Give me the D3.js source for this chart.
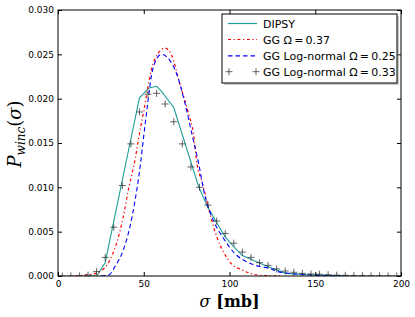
<!DOCTYPE html>
<html lang="en">
<head>
    <meta charset="UTF-8">
    <title>P winc sigma</title>
    <style>
        body {
            margin: 0;
            background-color: #ffffff;
        }
        svg text {
            font-family: 'DejaVu Sans', sans-serif;
        }
        .tick text {
            font-size: 9px;
            fill: #000;
        }
        .serif {
            font-family: 'DejaVu Serif', serif;
        }
    </style>
</head>
<body>
    <div id="chart"></div>

    <script src="https://d3js.org/d3.v7.min.js"></script>
    <script>
        // values: [sigma, P]
        const dipsy = [
            [17.5, 0], [22.5, 0], [27.5, 0.0015], [42, 0.0150], [47.5, 0.0201],
            [53, 0.0212], [57.5, 0.0214], [60, 0.0209], [67.5, 0.0190], [82, 0.0101],
            [87, 0.0079], [92.5, 0.0060], [97.5, 0.0044], [102.5, 0.0033], [107.5, 0.0023],
            [122.5, 0.00105], [133, 0.0003], [145, 0.00015], [160, 0.00005], [170, 0]
        ];
        const gg037 = [
            [10, 0], [15, 0.0001], [20, 0.0002], [24.5, 0.0005], [30, 0.0017],
            [34, 0.0036], [38, 0.0066], [41, 0.0097], [45, 0.0132], [47, 0.0155],
            [50, 0.0186], [54.5, 0.0233], [58, 0.0250], [62.5, 0.0257], [66, 0.0250],
            [71, 0.0217], [76, 0.0184], [79, 0.0160], [81, 0.0127], [84, 0.0106],
            [87, 0.0083], [90, 0.0060], [93, 0.0042], [96.5, 0.0027], [101, 0.0014],
            [107, 0.0007], [114, 0.0002], [120, 0.00005], [130, 0]
        ];
        const logn025 = [
            [25, 0], [29.5, 0.0001], [33, 0.0010], [38, 0.0029], [42, 0.0056],
            [45, 0.0086], [48, 0.0125], [50, 0.0158], [52, 0.0190], [54.5, 0.0226],
            [57, 0.0243], [60.5, 0.0250], [64, 0.0246], [69, 0.0229], [74, 0.0195],
            [78, 0.0161], [82, 0.0127], [85.5, 0.0092], [90.5, 0.0063], [96.5, 0.00425],
            [103, 0.00256], [110, 0.0016], [118, 0.00105], [123.5, 0.00087], [128, 0.0005],
            [135, 0.0003], [145, 0.00015], [155, 0.00005], [165, 0]
        ];
        const logn033 = [
            [2.5, 0], [7.5, 0], [12.5, 0], [17.5, 0.0001], [22.5, 0.0005],
            [27.5, 0.0021], [32.5, 0.0055], [37.5, 0.0102], [42.5, 0.0149], [47.5, 0.0185],
            [52.5, 0.0205], [57.5, 0.0206], [62.5, 0.0194], [67.5, 0.0174], [72.5, 0.0149],
            [77.5, 0.0123], [82.5, 0.0100], [87.5, 0.0080], [92.5, 0.0062], [97.5, 0.0048],
            [102.5, 0.0037], [107.5, 0.0027], [112.5, 0.0021], [117.5, 0.0015], [122.5, 0.0012],
            [127.5, 0.0008], [132.5, 0.00056], [137.5, 0.00042], [142.5, 0.0003], [147.5, 0.00023],
            [152.5, 0.0002], [157.5, 0.00015], [162.5, 0.0001], [167.5, 0.00008], [172.5, 0.00006],
            [177.5, 0.00004], [182.5, 0.00003], [187.5, 0.00002], [192.5, 0.00001], [197.5, 0.00001]
        ];
        const xTicks = [0, 50, 100, 150, 200];
        const yTicks = [0, 0.005, 0.010, 0.015, 0.020, 0.025, 0.030];
        const legendLabels = ["DIPSY", "GG \u03A9\u2009=\u20090.37", "GG Log-normal \u03A9\u2009=\u20090.25", "GG Log-normal \u03A9\u2009=\u20090.33"];

        const width = 415, height = 317;
        const m = { left: 58, right: 401, top: 10, bottom: 276 };

        const svg = d3.select("#chart").append("svg")
            .attr("width", width)
            .attr("height", height);

        const x = d3.scaleLinear().domain([0, 200]).range([m.left, m.right]);
        const y = d3.scaleLinear().domain([0, 0.03]).range([m.bottom, m.top]);

        svg.append("clipPath").attr("id", "clip")
            .append("rect").attr("x", m.left).attr("y", m.top - 2)
            .attr("width", m.right - m.left).attr("height", m.bottom - m.top + 2);

        const line = d3.line().x(d => x(d[0])).y(d => y(d[1]));
        const smooth = d3.line().x(d => x(d[0])).y(d => y(d[1])).curve(d3.curveMonotoneX);

        const redDash = "3,2.6,1.2,2.6";
        const blueDash = "4.5,3";

        const lines = svg.append("g").attr("clip-path", "url(#clip)");

        lines.append("path").datum(dipsy)
            .attr("d", line)
            .attr("fill", "none")
            .attr("stroke", "#1f9e98")
            .attr("stroke-width", 1.1);

        lines.append("path").datum(gg037)
            .attr("d", smooth)
            .attr("fill", "none")
            .attr("stroke", "#ff0000")
            .attr("stroke-width", 1.2)
            .attr("stroke-dasharray", redDash);

        lines.append("path").datum(logn025)
            .attr("d", smooth)
            .attr("fill", "none")
            .attr("stroke", "#0000ff")
            .attr("stroke-width", 1.1)
            .attr("stroke-dasharray", blueDash);

        // crosses
        const cross = (sel, s) => sel.append("path")
            .attr("d", `M${-s},0H${s}M0,${-s}V${s}`)
            .attr("stroke", "#333")
            .attr("stroke-opacity", 0.75)
            .attr("stroke-width", 1);

        lines.selectAll("g.cross")
            .data(logn033)
            .join("g")
            .attr("class", "cross")
            .attr("transform", d => `translate(${x(d[0])},${y(d[1])})`)
            .each(function () { cross(d3.select(this), 3.5); });

        // axes, ticks inward on all four sides
        svg.append("g")
            .attr("transform", `translate(0,${m.bottom})`)
            .call(d3.axisBottom(x).tickValues(xTicks).tickFormat(d3.format("d")).tickSize(-4).tickPadding(5));
        svg.append("g")
            .attr("transform", `translate(0,${m.top})`)
            .call(d3.axisTop(x).tickValues(xTicks).tickFormat("").tickSize(-4));
        svg.append("g")
            .attr("transform", `translate(${m.left},0)`)
            .call(d3.axisLeft(y).tickValues(yTicks).tickFormat(d3.format(".3f")).tickSize(-4).tickPadding(4));
        svg.append("g")
            .attr("transform", `translate(${m.right},0)`)
            .call(d3.axisRight(y).tickValues(yTicks).tickFormat("").tickSize(-4));
        svg.selectAll(".domain").remove();
        svg.selectAll(".tick line").attr("stroke", "#000");

        svg.append("rect")
            .attr("x", m.left).attr("y", m.top)
            .attr("width", m.right - m.left).attr("height", m.bottom - m.top)
            .attr("fill", "none")
            .attr("stroke", "#000")
            .attr("stroke-width", 1);

        // axis labels
        const xl = svg.append("text")
            .attr("class", "serif")
            .attr("x", (m.left + m.right) / 2)
            .attr("y", 307)
            .attr("text-anchor", "middle")
            .attr("font-size", 16);
        xl.append("tspan").attr("font-style", "italic").text("\u03C3");
        xl.append("tspan").attr("font-weight", "bold").attr("dx", 6).text("[mb]");

        const yl = svg.append("text")
            .attr("class", "serif")
            .attr("transform", `translate(21,134) rotate(-90)`)
            .attr("text-anchor", "middle")
            .attr("font-size", 18);
        yl.append("tspan").attr("font-style", "italic").text("P");
        yl.append("tspan").attr("font-style", "italic").attr("font-size", 12).attr("dy", 4).text("winc");
        yl.append("tspan").attr("dy", -4).text("(");
        yl.append("tspan").attr("font-style", "italic").text("\u03C3");
        yl.append("tspan").text(")");

        // legend
        const lg = svg.append("g");
        const lx = 222, ly = 14, lw = 175, lh = 69;
        lg.append("rect")
            .attr("x", lx + 2).attr("y", ly + 2).attr("width", lw).attr("height", lh)
            .attr("fill", "#999").attr("opacity", 0.5);
        lg.append("rect")
            .attr("x", lx).attr("y", ly).attr("width", lw).attr("height", lh)
            .attr("fill", "#fff").attr("stroke", "#000").attr("stroke-width", 1);

        const rowY = [23.5, 39.5, 55.8, 71.7];
        const styles = [
            { stroke: "#1f9e98", dash: null },
            { stroke: "#ff0000", dash: redDash },
            { stroke: "#0000ff", dash: blueDash },
            { stroke: null, dash: null }
        ];
        legendLabels.forEach((label, i) => {
            const st = styles[i];
            if (st.stroke) {
                lg.append("line")
                    .attr("x1", lx + 6).attr("x2", lx + 35)
                    .attr("y1", rowY[i]).attr("y2", rowY[i])
                    .attr("stroke", st.stroke)
                    .attr("stroke-width", 1.2)
                    .attr("stroke-dasharray", st.dash);
            } else {
                [lx + 7, lx + 34].forEach(cx => {
                    const g = lg.append("g").attr("transform", `translate(${cx},${rowY[i]})`);
                    cross(g, 3.5);
                });
            }
            lg.append("text")
                .attr("x", lx + 41)
                .attr("y", rowY[i] + 4)
                .attr("font-size", 11)
                .text(label);
        });
    </script>
</body>
</html>
